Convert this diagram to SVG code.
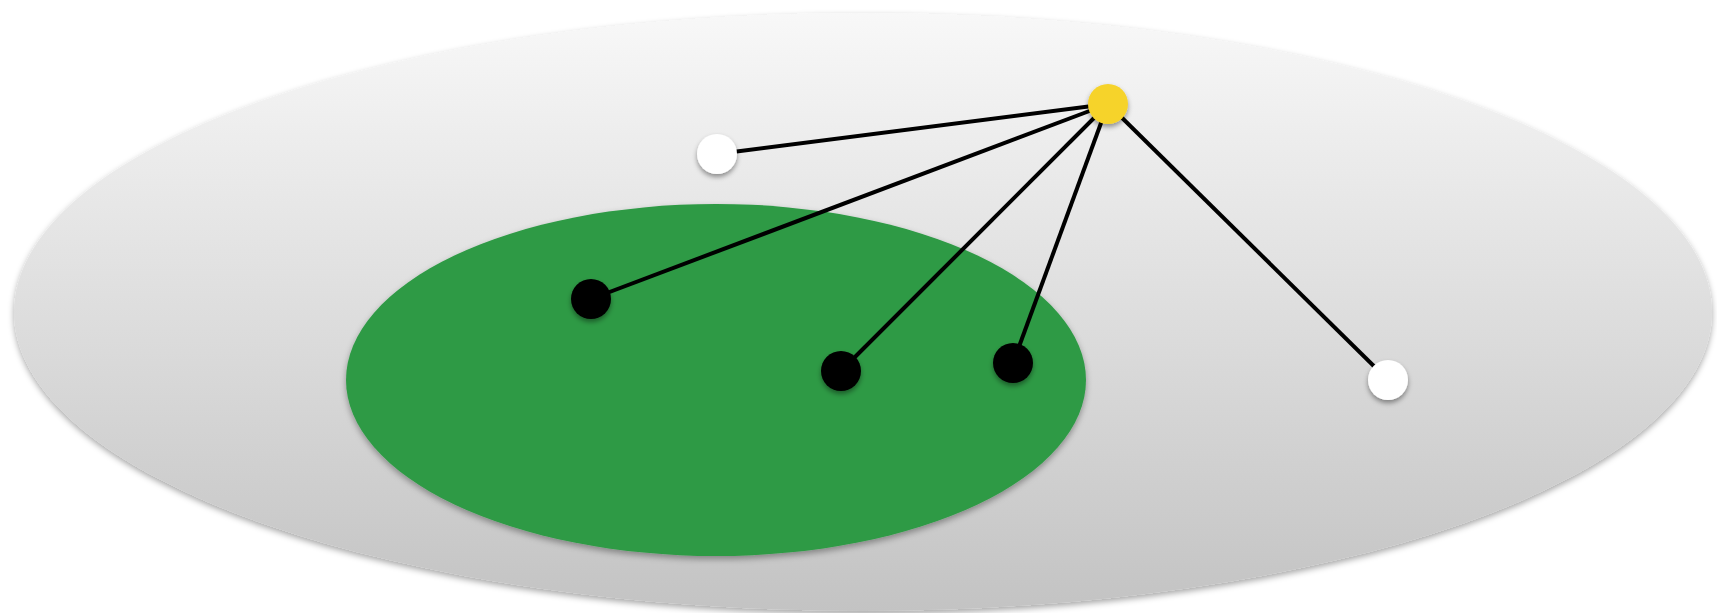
<svg xmlns="http://www.w3.org/2000/svg" width="1717" height="613" viewBox="0 0 1717 613">
<style>
.edge{stroke:#000;stroke-width:4;fill:none}
.white{fill:#fff}
.black{fill:#000}
.yellow{fill:#f6d32b}
</style>
<defs>
<linearGradient id="g" x1="0" y1="0" x2="0" y2="1">
<stop offset="0" stop-color="#f8f8f8"/>
<stop offset="1" stop-color="#c3c3c3"/>
</linearGradient>
<filter id="sh" x="-20%" y="-20%" width="140%" height="150%">
<feDropShadow dx="0" dy="3" stdDeviation="3" flood-color="#000" flood-opacity="0.35"/>
</filter>
<filter id="nsh" x="-50%" y="-50%" width="200%" height="200%">
<feDropShadow dx="0" dy="3" stdDeviation="2.5" flood-color="#000" flood-opacity="0.4"/>
</filter>
</defs>
<rect width="1717" height="613" fill="#fff"/>
<g id="outer"><ellipse cx="863" cy="312" rx="849" ry="299" fill="url(#g)" filter="url(#sh)"/></g>
<g id="inner"><ellipse cx="716" cy="380" rx="370" ry="176" fill="#2e9a45" filter="url(#sh)"/></g>
<g id="connectors">
<line class="edge" x1="1108" y1="104" x2="717" y2="154"/>
<line class="edge" x1="1108" y1="104" x2="591" y2="299"/>
<line class="edge" x1="1108" y1="104" x2="841" y2="371"/>
<line class="edge" x1="1108" y1="104" x2="1013" y2="363"/>
<line class="edge" x1="1108" y1="104" x2="1388" y2="380"/>
</g>
<g id="n-yellow"><circle class="yellow" cx="1108" cy="104" r="20" filter="url(#nsh)"/></g>
<g id="n-white1"><circle class="white" cx="717" cy="154" r="20" filter="url(#nsh)"/></g>
<g id="n-white2"><circle class="white" cx="1388" cy="380" r="20" filter="url(#nsh)"/></g>
<g id="n-black1"><circle class="black" cx="591" cy="299" r="20" filter="url(#nsh)"/></g>
<g id="n-black2"><circle class="black" cx="841" cy="371" r="20" filter="url(#nsh)"/></g>
<g id="n-black3"><circle class="black" cx="1013" cy="363" r="20" filter="url(#nsh)"/></g>
</svg>
